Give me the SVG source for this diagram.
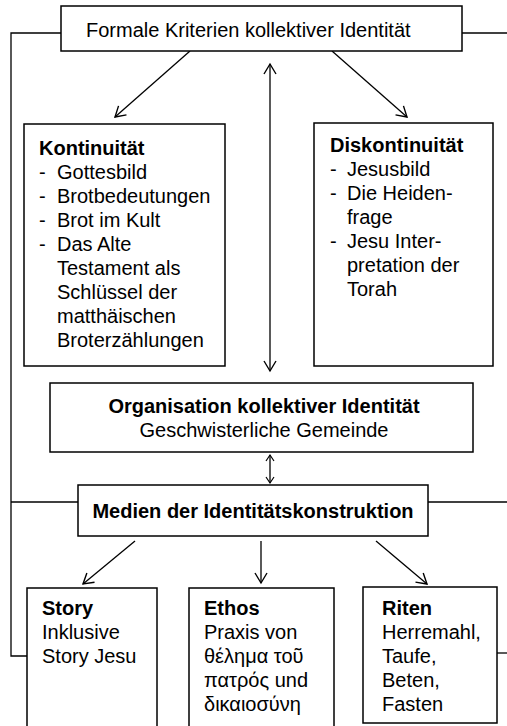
<svg xmlns="http://www.w3.org/2000/svg" width="507" height="726" viewBox="0 0 507 726">
<style>
.box{fill:#fff;stroke:#000;stroke-width:1.5}
.t{font-family:"Liberation Sans",Arial,sans-serif;font-size:20px;fill:#000}
.b{font-weight:bold}
.c{text-anchor:middle}
.ln{fill:none;stroke:#000;stroke-width:1.3}
</style>
<defs>
<marker id="ah" markerUnits="userSpaceOnUse" markerWidth="14" markerHeight="14" viewBox="-12 -7 14 14" refX="0" refY="0" orient="auto-start-reverse">
<path d="M-10,-6 L0,0 L-10,6" fill="none" stroke="#000" stroke-width="1.4"/>
</marker>
<marker id="ahs" markerUnits="userSpaceOnUse" markerWidth="10" markerHeight="10" viewBox="-8 -5 10 10" refX="0" refY="0" orient="auto-start-reverse">
<path d="M-6,-4 L0,0 L-6,4" fill="none" stroke="#000" stroke-width="1.2"/>
</marker>
</defs>
<g id="connectors">
<polyline class="ln" points="61,33 11,33 11,656 27,656"/>
<line class="ln" x1="462" y1="33" x2="507" y2="33"/>
<line class="ln" x1="11" y1="502" x2="78" y2="502"/>
<line class="ln" x1="428" y1="502" x2="507" y2="502"/>
<line class="ln" x1="497" y1="653" x2="507" y2="653"/>
<line class="ln" x1="190" y1="51" x2="115" y2="117" marker-end="url(#ah)"/>
<line class="ln" x1="332" y1="51" x2="407" y2="117" marker-end="url(#ah)"/>
<line class="ln" x1="270" y1="64" x2="270" y2="371" marker-start="url(#ah)" marker-end="url(#ah)"/>
<line class="ln" x1="270" y1="455" x2="270" y2="483" stroke-width="1.6" marker-start="url(#ahs)" marker-end="url(#ahs)"/>
<line class="ln" x1="135" y1="541" x2="83" y2="584" marker-end="url(#ah)"/>
<line class="ln" x1="261" y1="541" x2="261" y2="583" marker-end="url(#ah)"/>
<line class="ln" x1="376" y1="541" x2="427" y2="584" marker-end="url(#ah)"/>
</g>
<g id="formale">
<rect class="box" x="61" y="6" width="401" height="45"/>
<text class="t" x="86" y="37">Formale Kriterien kollektiver Identität</text>
</g>
<g id="kontinuitaet">
<rect class="box" x="24" y="124" width="201" height="242"/>
<text class="t b" x="39" y="155">Kontinuität</text>
<text class="t" x="39" y="179">-</text><text class="t" x="57" y="179">Gottesbild</text>
<text class="t" x="39" y="203">-</text><text class="t" x="57" y="203">Brotbedeutungen</text>
<text class="t" x="39" y="227">-</text><text class="t" x="57" y="227">Brot im Kult</text>
<text class="t" x="39" y="251">-</text><text class="t" x="57" y="251">Das Alte</text>
<text class="t" x="57" y="275">Testament als</text>
<text class="t" x="57" y="299">Schlüssel der</text>
<text class="t" x="57" y="323">matthäischen</text>
<text class="t" x="57" y="347">Broterzählungen</text>
</g>
<g id="diskontinuitaet">
<rect class="box" x="314" y="123" width="179" height="243"/>
<text class="t b" x="330" y="152">Diskontinuität</text>
<text class="t" x="330" y="176">-</text><text class="t" x="347" y="176">Jesusbild</text>
<text class="t" x="330" y="200">-</text><text class="t" x="347" y="200">Die Heiden-</text>
<text class="t" x="347" y="224">frage</text>
<text class="t" x="330" y="248">-</text><text class="t" x="347" y="248">Jesu Inter-</text>
<text class="t" x="347" y="272">pretation der</text>
<text class="t" x="347" y="296">Torah</text>
</g>
<g id="organisation">
<rect class="box" x="50" y="383" width="423" height="69"/>
<text class="t b c" x="264" y="413">Organisation kollektiver Identität</text>
<text class="t c" x="264" y="437">Geschwisterliche Gemeinde</text>
</g>
<g id="medien">
<rect class="box" x="78" y="485" width="350" height="51"/>
<text class="t b c" x="253" y="518">Medien der Identitätskonstruktion</text>
</g>
<g id="story">
<rect class="box" x="27" y="588" width="130" height="150"/>
<text class="t b" x="42" y="615">Story</text>
<text class="t" x="42" y="639">Inklusive</text>
<text class="t" x="42" y="663">Story Jesu</text>
</g>
<g id="ethos">
<rect class="box" x="189" y="588" width="145" height="150"/>
<text class="t b" x="204" y="615">Ethos</text>
<text class="t" x="204" y="639">Praxis von</text>
<text class="t" x="204" y="663">θέλημα τοῦ</text>
<text class="t" x="204" y="687">πατρός und</text>
<text class="t" x="204" y="711">δικαιοσύνη</text>
</g>
<g id="riten">
<rect class="box" x="363" y="587" width="134" height="136"/>
<text class="t b" x="382" y="615">Riten</text>
<text class="t" x="382" y="639">Herremahl,</text>
<text class="t" x="382" y="663">Taufe,</text>
<text class="t" x="382" y="687">Beten,</text>
<text class="t" x="382" y="711">Fasten</text>
</g>
</svg>
